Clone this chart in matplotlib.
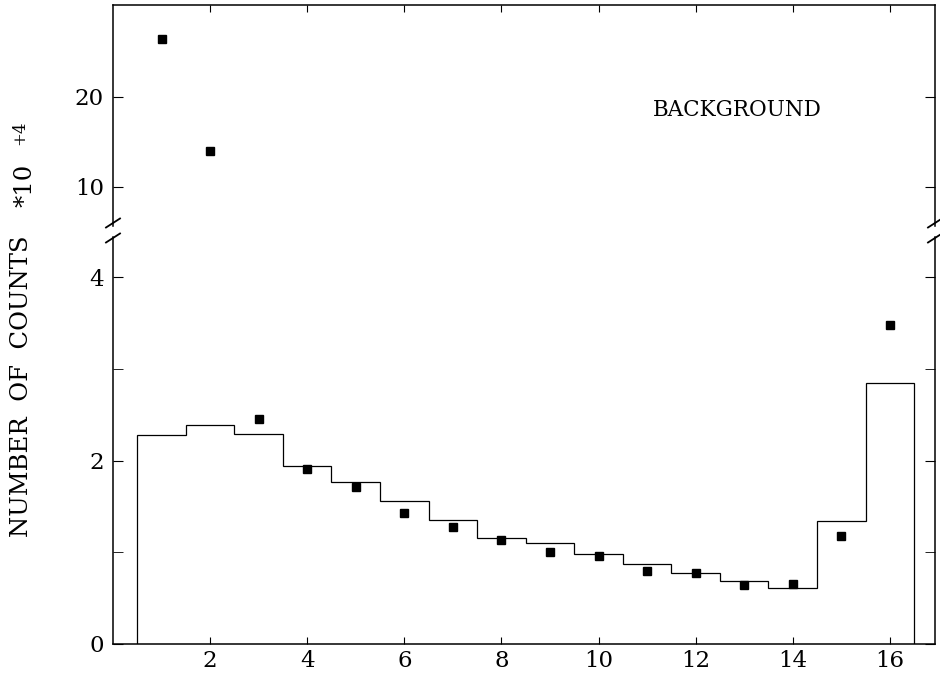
import matplotlib.pyplot as plt
from matplotlib.lines import Line2D

# bin centres 1..16, histogram (model) and measured background points, units of 10^4 counts
bins = list(range(1, 17))
edges = [b - 0.5 for b in bins] + [16.5]
model = [2.28, 2.39, 2.29, 1.94, 1.77, 1.56, 1.35, 1.16,
         1.10, 0.98, 0.87, 0.78, 0.69, 0.61, 1.34, 2.85]
points = [26.4, 14.0, 2.45, 1.905, 1.71, 1.43, 1.28, 1.13,
          1.00, 0.96, 0.80, 0.78, 0.64, 0.66, 1.18, 3.48]

W, H = 940, 679
plt.rcParams['font.family'] = 'DejaVu Serif'


def fx(x):
    return x / W


def fy(y):
    return 1 - y / H


fig = plt.figure(figsize=(9.4, 6.79), dpi=100)
left, right = fx(113), fx(935)
ax_lo = fig.add_axes([left, fy(644), right - left, fy(237) - fy(644)])
ax_hi = fig.add_axes([left, fy(226), right - left, fy(5) - fy(226)])

for ax in (ax_lo, ax_hi):
    ax.stairs(model, edges, baseline=0, color='black', linewidth=0.9)
    ax.plot(bins, points, 's', color='black', markersize=6.2, linestyle='none')
    ax.set_xlim(0, 16.93)
    ax.set_xticks(range(2, 17, 2))
    for s in ax.spines.values():
        s.set_linewidth(1.1)

ax_lo.set_ylim(0, 4.44)
ax_lo.set_yticks([0, 2, 4])
ax_lo.set_yticks([1, 3], minor=True)
ax_lo.spines['top'].set_visible(False)
ax_lo.tick_params(axis='y', which='both', direction='in', length=7, left=True, right=True,
                  labelsize=16.5, pad=6.5)
ax_lo.tick_params(axis='x', direction='in', length=5, top=False, labelsize=16.5, pad=4)

ax_hi.set_ylim(5.67, 30.2)
ax_hi.set_yticks([10, 20])
ax_hi.spines['bottom'].set_visible(False)
ax_hi.tick_params(axis='y', direction='in', length=7, left=True, right=True,
                  labelsize=16.5, pad=6.5)
ax_hi.tick_params(axis='x', direction='in', length=5, top=True, bottom=False,
                  labelbottom=False)

# break marks on both spines
for xs in (113, 935):
    for yc in (223, 238):
        fig.add_artist(Line2D([fx(xs - 7), fx(xs + 7)], [fy(yc + 4.5), fy(yc - 4.5)],
                              color='black', linewidth=1.3))

fig.text(fx(653), fy(110), 'BACKGROUND', fontsize=15.5, ha='left', va='center')
fig.text(fx(22), fy(386), 'NUMBER  OF  COUNTS', fontsize=17.5, rotation=90,
         ha='center', va='center')
fig.text(fx(25), fy(185), '*10', fontsize=17.5, rotation=90, ha='center', va='center')
fig.text(fx(20), fy(133), '+4', fontsize=12, rotation=90, ha='center', va='center')

fig.savefig('out.png', dpi=100)
